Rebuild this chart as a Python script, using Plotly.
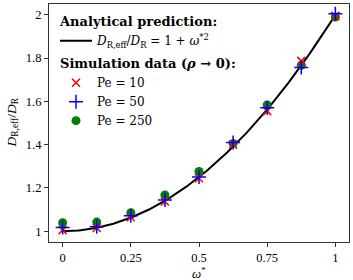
import numpy as np
import plotly.graph_objects as go

omega = [0, 0.125, 0.25, 0.375, 0.5, 0.625, 0.75, 0.875, 1.0]
pe10 = [1.005, 1.015, 1.064, 1.137, 1.245, 1.40, 1.555, 1.787, 1.995]
pe50 = [1.017, 1.02, 1.071, 1.144, 1.25, 1.41, 1.571, 1.757, 2.005]
pe250 = [1.039, 1.042, 1.085, 1.167, 1.276, 1.405, 1.583, 1.767, 1.99]
x_ticks = [0, 0.25, 0.5, 0.75, 1]
x_tick_labels = ["0", "0.25", "0.5", "0.75", "1"]
y_ticks = [1, 1.2, 1.4, 1.6, 1.8, 2]
y_tick_labels = ["1", "1.2", "1.4", "1.6", "1.8", "2"]

xc = np.linspace(0, 1, 200)
yc = 1 + xc ** 2

FONT = "Liberation Serif"
LFONT = "DejaVu Serif"
GT_FONT = dict(family=LFONT, size=13, color="black")
fig = go.Figure()
fig.add_trace(go.Scatter(
    x=xc, y=yc, mode="lines", line=dict(color="black", width=2),
    name="<i>D</i><sub>R,eff</sub>/<i>D</i><sub>R</sub> = 1 + <i>ω</i><sup>*2</sup>",
    legendgroup="a", legendgrouptitle=dict(text="<b>Analytical prediction:</b>", font=GT_FONT),
    legendrank=1))
fig.add_trace(go.Scatter(
    x=omega, y=pe250, mode="markers",
    marker=dict(symbol="circle", color="green", size=9),
    name="Pe = 250", legendgroup="b", legendrank=4))
fig.add_trace(go.Scatter(
    x=omega, y=pe10, mode="markers",
    marker=dict(symbol="x-thin", color="red", size=8, line=dict(color="red", width=1.5)),
    name="Pe = 10", legendgroup="b",
    legendgrouptitle=dict(text="<b>Simulation data (<i>ρ</i> → 0):</b>", font=GT_FONT),
    legendrank=2))
fig.add_trace(go.Scatter(
    x=omega, y=pe50, mode="markers",
    marker=dict(symbol="cross-thin", color="blue", size=10, line=dict(color="blue", width=1.5)),
    name="Pe = 50", legendgroup="b", legendrank=3))

axis_common = dict(showline=True, linecolor="#333", linewidth=1.2, mirror=True,
                   ticks="outside", ticklen=4, tickcolor="#333", showgrid=False,
                   zeroline=False, tickfont=dict(family=FONT, size=12.5, color="black"))
fig.update_layout(
    width=353, height=280,
    margin=dict(l=49, r=4, t=4, b=38),
    plot_bgcolor="white", paper_bgcolor="white",
    font=dict(family=FONT, size=12, color="black"),
    xaxis=dict(range=[-0.05, 1.05], tickvals=x_ticks, ticktext=x_tick_labels, **axis_common),
    yaxis=dict(range=[0.95, 2.05], tickvals=y_ticks, ticktext=y_tick_labels, **axis_common),
    legend=dict(x=0.02, y=0.99, xanchor="left", yanchor="top",
                bgcolor="rgba(0,0,0,0)", font=dict(family=LFONT, size=12),
                tracegroupgap=3, traceorder="grouped", itemwidth=32),
    showlegend=True,
    annotations=[
        dict(text="<i>ω</i><sup>*</sup>", xref="paper", yref="paper", x=0.5, y=-0.09,
             xanchor="center", yanchor="top", showarrow=False,
             font=dict(family=FONT, size=13)),
        dict(text="<i>D</i><sub>R,eff</sub>/<i>D</i><sub>R</sub>", xref="paper", yref="paper",
             x=-0.125, y=0.5, xanchor="center", yanchor="middle", textangle=-90,
             showarrow=False, font=dict(family=FONT, size=13.5)),
    ],
)
fig.write_html("out.html", config={"displayModeBar": False},
               post_script="document.body.style.margin='0';")
